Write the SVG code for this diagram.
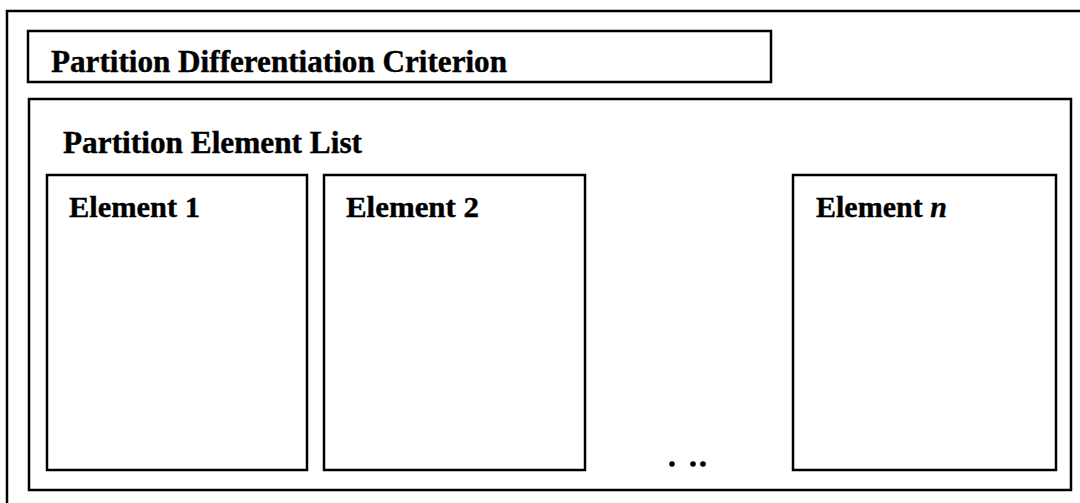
<svg xmlns="http://www.w3.org/2000/svg" width="1080" height="503" viewBox="0 0 1080 503">
<style>
.box{fill:none;stroke:#000;stroke-width:2.5}
.t{font-family:"Liberation Serif","Times New Roman",serif;font-weight:bold;fill:#000;stroke:#000;stroke-width:0.4}
.h{font-size:31px}
.e{font-size:30px}
</style>
<rect width="1080" height="503" fill="#fff"/>
<g id="frame">
<path class="box" d="M7,503 V11 H1080"/>
</g>
<g id="criterion">
<rect class="box" x="28" y="31" width="743" height="51"/>
<text class="t h" x="51" y="72" textLength="456" lengthAdjust="spacingAndGlyphs">Partition Differentiation Criterion</text>
</g>
<g id="element-list">
<rect class="box" x="29" y="99" width="1042" height="391"/>
<text class="t h" x="63" y="153" textLength="299" lengthAdjust="spacingAndGlyphs">Partition Element List</text>
</g>
<g id="element-1">
<rect class="box" x="47" y="175" width="260" height="295"/>
<text class="t e" x="69" y="217" textLength="131" lengthAdjust="spacingAndGlyphs">Element 1</text>
</g>
<g id="element-2">
<rect class="box" x="324" y="175" width="261" height="295"/>
<text class="t e" x="346" y="217" textLength="133" lengthAdjust="spacingAndGlyphs">Element 2</text>
</g>
<g id="ellipsis">
<circle cx="672" cy="464" r="2.8"/>
<circle cx="693" cy="464" r="2.8"/>
<circle cx="703" cy="464" r="2.8"/>
</g>
<g id="element-n">
<rect class="box" x="793" y="175" width="263" height="295"/>
<text class="t e" x="816" y="217">Element <tspan font-style="italic">n</tspan></text>
</g>
<g id="connectors"></g>
</svg>
